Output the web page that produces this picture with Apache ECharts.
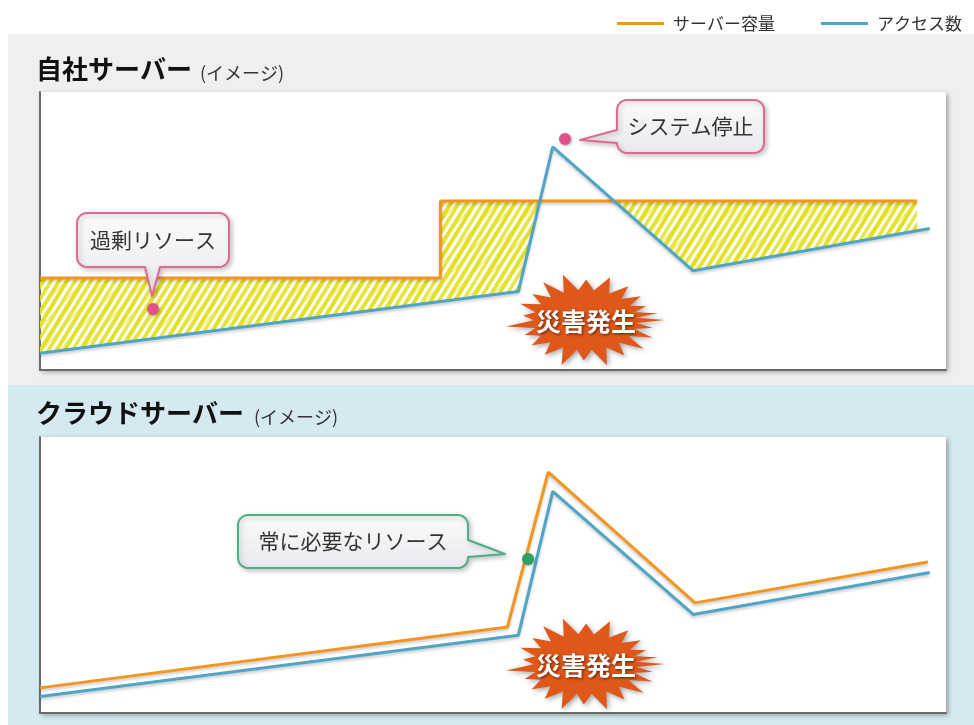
<!DOCTYPE html>
<html>
<head>
<meta charset="utf-8">
<script src="https://cdn.jsdelivr.net/npm/echarts@6/dist/echarts.min.js"></script>
<style>
  html, body { margin: 0; padding: 0; background: #ffffff; }
  #chart { width: 974px; height: 725px; }
</style>
</head>
<body>
<div id="chart"></div>
<script>
const FONT = '"Noto Sans CJK JP", "Noto Sans", sans-serif';

// Legend / series names
const seriesNames = ['サーバー容量', 'アクセス数'];
const panelTitles = ['自社サーバー', 'クラウドサーバー'];
const panelNote = '(イメージ)';
const calloutTexts = ['過剰リソース', 'システム停止', '常に必要なリソース'];
const burstText = '災害発生';

// [time, load] pairs (time 0-100, load 0-100)
const accessCount    = [[0, 6.0], [52.8, 28.2], [56.6, 80.3], [72.1, 35.7], [98.2, 50.9]];
const onPremCapacity = [[0, 33.1], [44.2, 33.1], [44.2, 60.8], [96.8, 60.8]];
const cloudCapacity  = [[0, 9.1], [51.6, 31.2], [56.1, 87.3], [72.3, 39.9], [98.0, 54.7]];

const ORANGE = '#f2961f';
const BLUE = '#4ea5c5';

// ---- hand-drawn style hatch pattern for unused capacity ----
function makeHatch() {
  const W = 40, H = 130;
  const c = document.createElement('canvas');
  c.width = W; c.height = H;
  const ctx = c.getContext('2d');
  ctx.lineCap = 'round';
  // main strokes, direction (40, -65)
  const widths = [4.0, 3.3, 4.3, 3.6, 3.9];
  const alphas = [1.0, 0.85, 1.0, 0.9, 0.95];
  for (let i = 0; i < 5; i++) {
    ctx.strokeStyle = 'rgba(228,224,40,' + alphas[i] + ')';
    ctx.lineWidth = widths[i];
    for (const off of [-80, -40, 0, 40]) {
      ctx.beginPath();
      ctx.moveTo(i * 8 + off, H);
      ctx.lineTo(i * 8 + off + 80, 0);
      ctx.stroke();
    }
  }
  // a few looser crossing strokes, direction (120, -130)
  ctx.strokeStyle = 'rgba(228,224,40,0.55)';
  ctx.lineWidth = 1.6;
  for (const x of [5, 23]) {
    for (const off of [-120, -80, -40, 0, 40]) {
      ctx.beginPath();
      ctx.moveTo(x + off, H);
      ctx.lineTo(x + off + 120, 0);
      ctx.stroke();
    }
  }
  return c;
}
const hatchCanvas = makeHatch();

// ---- region where capacity exceeds access ----
function yAt(pts, x) {
  for (let i = 0; i < pts.length - 1; i++) {
    const a = pts[i], b = pts[i + 1];
    if (b[0] === a[0]) continue;
    if (x >= a[0] && x <= b[0]) return a[1] + (b[1] - a[1]) * (x - a[0]) / (b[0] - a[0]);
  }
  return pts[pts.length - 1][1];
}
function segX(p1, p2, p3, p4) {
  const d = (p2[0] - p1[0]) * (p4[1] - p3[1]) - (p2[1] - p1[1]) * (p4[0] - p3[0]);
  if (Math.abs(d) < 1e-9) return null;
  const t = ((p3[0] - p1[0]) * (p4[1] - p3[1]) - (p3[1] - p1[1]) * (p4[0] - p3[0])) / d;
  const u = ((p3[0] - p1[0]) * (p2[1] - p1[1]) - (p3[1] - p1[1]) * (p2[0] - p1[0])) / d;
  if (t < 0 || t > 1 || u < 0 || u > 1) return null;
  return p1[0] + t * (p2[0] - p1[0]);
}
function surplusRegion(cap, acc) {
  const x0 = cap[0][0], x1 = cap[cap.length - 1][0];
  const xs = new Set();
  cap.forEach(p => xs.add(p[0]));
  acc.forEach(p => { if (p[0] >= x0 && p[0] <= x1) xs.add(p[0]); });
  for (let i = 0; i < cap.length - 1; i++) {
    for (let j = 0; j < acc.length - 1; j++) {
      const x = segX(cap[i], cap[i + 1], acc[j], acc[j + 1]);
      if (x !== null) xs.add(x);
    }
  }
  const sorted = Array.from(xs).sort((a, b) => a - b);
  const lower = sorted.map(x => [x, Math.min(yAt(acc, x), yAt(cap, x))]);
  return cap.concat(lower.reverse());
}
const surplus = surplusRegion(onPremCapacity, accessCount);

// ---- decorations ----
function arcPts(cx, cy, r, a0, a1) {
  const out = [];
  for (let k = 0; k <= 6; k++) {
    const a = (a0 + (a1 - a0) * k / 6) * Math.PI / 180;
    out.push([cx + r * Math.cos(a), cy + r * Math.sin(a)]);
  }
  return out;
}
// rounded box outline with a pointer tail, as polygon points (clockwise)
function calloutPoints(x0, y0, x1, y1, r, side, b0, b1, tip) {
  let p = [];
  p = p.concat(arcPts(x1 - r, y0 + r, r, -90, 0));
  if (side === 'right') p.push([x1, b0], tip, [x1, b1]);
  p = p.concat(arcPts(x1 - r, y1 - r, r, 0, 90));
  if (side === 'bottom') p.push([b1, y1], tip, [b0, y1]);
  p = p.concat(arcPts(x0 + r, y1 - r, r, 90, 180));
  if (side === 'left') p.push([x0, b1], tip, [x0, b0]);
  p = p.concat(arcPts(x0 + r, y0 + r, r, 180, 270));
  return p;
}
function callout(box, side, b0, b1, tip, border, text) {
  const [x0, y0, x1, y1] = box;
  return [
    {
      type: 'polygon', z: 50,
      shape: { points: calloutPoints(x0, y0, x1, y1, 10, side, b0, b1, tip) },
      style: {
        fill: new echarts.graphic.LinearGradient(0, 0, 0, 1, [
          { offset: 0, color: '#fbfbfc' }, { offset: 1, color: '#e9e9ee' }
        ]),
        stroke: border, lineWidth: 2, lineJoin: 'round',
        shadowColor: 'rgba(0,0,0,0.22)', shadowBlur: 5, shadowOffsetX: 2, shadowOffsetY: 2
      }
    },
    {
      type: 'text', z: 51,
      style: {
        text: text, x: (x0 + x1) / 2, y: (y0 + y1) / 2,
        align: 'center', verticalAlign: 'middle',
        textAlign: 'center', textVerticalAlign: 'middle',
        font: '21px ' + FONT, fill: '#333333'
      }
    }
  ];
}
function dot(x, y, color) {
  return {
    type: 'circle', z: 52, shape: { cx: x, cy: y, r: 6 },
    style: { fill: color, shadowColor: 'rgba(0,0,0,0.3)', shadowBlur: 3, shadowOffsetX: 1, shadowOffsetY: 1 }
  };
}
// irregular starburst outline
const burstSpikes = [
  [0, 1.0], [11, 0.86], [24, 0.92], [40, 0.95], [57, 0.9], [74, 1.0], [91, 0.86],
  [107, 1.0], [124, 0.9], [141, 0.86], [157, 0.82], [172, 1.0], [187, 0.78],
  [203, 0.88], [220, 0.86], [237, 0.96], [254, 1.0], [271, 0.86], [289, 0.96],
  [307, 0.9], [324, 0.86], [339, 0.82], [351, 0.92]
];
function burst(cx, cy) {
  const rx = 80, ry = 47, pts = [];
  for (let i = 0; i < burstSpikes.length; i++) {
    const [a, r] = burstSpikes[i];
    const next = i + 1 < burstSpikes.length ? burstSpikes[i + 1][0] : 360;
    const t = a * Math.PI / 180, m = (a + next) / 2 * Math.PI / 180;
    pts.push([cx + rx * r * Math.cos(t), cy + ry * r * Math.sin(t)]);
    pts.push([cx + rx * 0.64 * Math.cos(m), cy + ry * 0.64 * Math.sin(m)]);
  }
  return [
    {
      type: 'polygon', z: 40, shape: { points: pts },
      style: { fill: '#df5819', shadowColor: 'rgba(0,0,0,0.35)', shadowBlur: 5, shadowOffsetX: 2, shadowOffsetY: 2 }
    },
    {
      type: 'text', z: 41,
      style: {
        text: burstText, x: cx + 1, y: cy + 1,
        align: 'center', verticalAlign: 'middle',
        textAlign: 'center', textVerticalAlign: 'middle',
        font: 'bold 25px ' + FONT, fill: '#ffffff',
        textShadowColor: 'rgba(70,20,0,0.85)', textShadowBlur: 3, textShadowOffsetX: 1, textShadowOffsetY: 1
      }
    }
  ];
}
function panelTitle(x, y, title, noteX) {
  return [
    {
      type: 'text', z: 5,
      style: { text: title, x: x, y: y, verticalAlign: 'middle', textVerticalAlign: 'middle',
               font: 'bold 26px ' + FONT, fill: '#111111' }
    },
    {
      type: 'text', z: 5,
      style: { text: panelNote, x: noteX, y: y + 4, verticalAlign: 'middle', textVerticalAlign: 'middle',
               font: '18px ' + FONT, fill: '#333333' }
    }
  ];
}

const graphics = [].concat(
  [
    { type: 'rect', z: -10, shape: { x: 8, y: 34, width: 966, height: 351 }, style: { fill: '#efefef' } },
    { type: 'rect', z: -10, shape: { x: 8, y: 385, width: 966, height: 340 }, style: { fill: '#d4e9f0' } }
  ],
  panelTitle(36, 69, panelTitles[0], 200),
  panelTitle(36, 413, panelTitles[1], 254),
  burst(585, 320),
  burst(585, 664),
  callout([77, 213, 229, 267], 'bottom', 145, 160, [152, 296], '#de6a92', calloutTexts[0]),
  [dot(153, 309, '#e0538a')],
  callout([617, 100, 764, 153], 'left', 130, 143, [580, 140], '#de6a92', calloutTexts[1]),
  [dot(565, 139, '#e0538a')],
  callout([238, 515, 468, 568], 'right', 540, 557, [505, 554], '#4fae84', calloutTexts[2]),
  [dot(528, 559, '#2e9d68')]
);

const axisLine = { show: true, lineStyle: { color: '#6a6a6a', width: 2 } };
function xAx(gi) {
  return { type: 'value', gridIndex: gi, min: 0, max: 100, axisLine: axisLine,
           axisTick: { show: false }, axisLabel: { show: false }, splitLine: { show: false } };
}
function yAx(gi) {
  return { type: 'value', gridIndex: gi, min: 0, max: 100, axisLine: axisLine,
           axisTick: { show: false }, axisLabel: { show: false }, splitLine: { show: false } };
}
const gridStyle = {
  show: true, backgroundColor: '#ffffff', borderWidth: 0,
  shadowColor: 'rgba(0,0,0,0.35)', shadowBlur: 5, shadowOffsetX: 2, shadowOffsetY: 2
};
function lineSeries(name, data, color, gi) {
  return {
    type: 'line', name: name, data: data, xAxisIndex: gi, yAxisIndex: gi,
    showSymbol: false, symbol: 'none', animation: false, z: 10,
    itemStyle: { color: color },
    lineStyle: { color: color, width: 3, shadowColor: 'rgba(0,0,0,0.22)', shadowBlur: 3, shadowOffsetY: 2 }
  };
}

const chart = echarts.init(document.getElementById('chart'));
chart.setOption({
  backgroundColor: '#ffffff',
  animation: false,
  legend: {
    data: seriesNames, right: 7, top: 10, icon: 'rect', itemWidth: 47, itemHeight: 3, itemGap: 46,
    textStyle: { fontFamily: FONT, fontSize: 17, color: '#333333', padding: [0, 0, 0, 4] }
  },
  grid: [
    Object.assign({ left: 40, top: 92, width: 906, height: 278 }, gridStyle),
    Object.assign({ left: 40, top: 437, width: 906, height: 276 }, gridStyle)
  ],
  xAxis: [xAx(0), xAx(1)],
  yAxis: [yAx(0), yAx(1)],
  series: [
    {
      type: 'custom', xAxisIndex: 0, yAxisIndex: 0, z: 2, animation: false, silent: true,
      data: [[0, 0]],
      renderItem: function (params, api) {
        return {
          type: 'polygon',
          shape: { points: surplus.map(p => api.coord(p)) },
          style: { fill: { image: hatchCanvas, repeat: 'repeat' } }
        };
      }
    },
    lineSeries(seriesNames[0], onPremCapacity, ORANGE, 0),
    lineSeries(seriesNames[1], accessCount, BLUE, 0),
    lineSeries(seriesNames[0], cloudCapacity, ORANGE, 1),
    lineSeries(seriesNames[1], accessCount, BLUE, 1)
  ],
  graphic: { elements: graphics }
});
</script>
</body>
</html>
